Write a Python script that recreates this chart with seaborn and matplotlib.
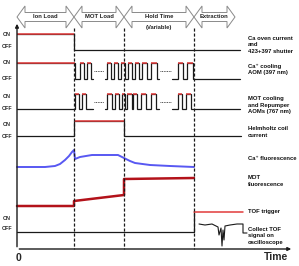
import matplotlib
matplotlib.use('Agg')
import matplotlib.pyplot as plt
from matplotlib.patches import Polygon
import seaborn as sns

# phases (time axis, in drawing units)
phase_edges = [17, 74, 124, 194, 235]
phase_names = ['Ion Load', 'MOT Load', 'Hold Time', 'Extraction']

# digital rows: ON / OFF levels
row_on = [34, 63, 94, 121, 212]
row_off = [50, 79, 109, 136, 232]
on_label_y = [34, 63, 97, 124, 218]
off_label_y = [47, 78, 109, 136, 229]

# high intervals for each row
oven_high = [(17, 74)]
cool_high = [(17, 75), (80, 84), (87, 91), (107, 111), (114, 118), (121, 125), (128, 132),
             (135, 139), (142, 147), (151, 157), (178, 183), (187, 193)]
mot_high = [(75, 79), (82, 86), (107, 112), (115, 119), (122, 125), (127, 132),
            (133, 137), (141, 146), (151, 156), (178, 182), (186, 191)]
helm_high = [(74, 124)]
pulse_gaps = [(93, 105), (159, 172)]
row_end = [240, 240, 240, 241]

# analogue traces
ca_t = [17, 30, 45, 55, 60, 65, 69, 72, 74, 75, 80, 92, 105, 118, 124, 130, 135, 150, 170, 194]
ca_f = [167, 167, 167, 166, 164, 160, 156, 152, 150, 159, 157, 155, 155, 155, 158, 161, 163, 165, 166, 167]
mot_t = [17, 74, 74, 124, 124, 194]
mot_f = [206, 206, 201, 195, 179, 178]
tof_t = [199, 205, 212, 216, 218, 219, 221, 222, 223, 224, 225, 230, 237, 243, 243, 247]
tof_s = [224, 225, 224, 226, 227, 235, 228, 246, 230, 240, 226, 225, 224, 224, 233, 233]

right_labels = ['Ca oven current\nand\n423+397 shutter', 'Ca⁺ cooling\nAOM (397 nm)',
                'MOT cooling\nand Repumper\nAOMs (767 nm)', 'Helmholtz coil\ncurrent',
                'Ca⁺ fluorescence', 'MOT\nfluorescence', 'TOF trigger',
                'Collect TOF\nsignal on\noscilloscope']
right_label_y = [45, 69, 105, 132, 159, 181, 211, 236]

RED = '#e23b3b'
BLACK = '#1a1a1a'
FONT = ['Liberation Sans', 'DejaVu Sans']

sns.set_theme(style='white')
plt.rcParams['font.family'] = FONT

fig = plt.figure(figsize=(2.99, 2.66), dpi=100)
ax = fig.add_axes([0, 0, 1, 1])
ax.set_xlim(0, 299)
ax.set_ylim(266, 0)
ax.axis('off')


def digital(high, start, end, on, off, gaps=()):
    # build list of segments (broken at dotted gaps)
    pts = []
    t = start
    cur = []
    events = sorted([(a, b, 'h') for a, b in high] + [(a, b, 'g') for a, b in gaps])
    for a, b, kind in events:
        if kind == 'h':
            if a > t:
                cur += [(t, off), (a, off)]
            cur += [(a, on), (b, on)]
            cur.append((b, off))
            t = b
        else:
            cur.append((a, off))
            pts.append(cur)
            ax.plot([a + 1, b - 1], [(on + off) / 2] * 2, color=BLACK, lw=0.6, ls=(0, (1, 1)))
            cur = [(b, off)]
            t = b
    cur.append((end, off))
    pts.append(cur)
    for seg in pts:
        xs, ys = zip(*seg)
        ax.plot(xs, ys, color=BLACK, lw=0.9, solid_joinstyle='miter')
    for a, b in high:
        ax.plot([a, b], [on, on], color=RED, lw=1.1, solid_capstyle='butt')


digital(oven_high, 17, row_end[0], row_on[0], row_off[0])
digital(cool_high, 17, row_end[1], row_on[1], row_off[1], pulse_gaps)
digital(mot_high, 17, row_end[2], row_on[2], row_off[2], pulse_gaps)
digital(helm_high, 17, row_end[3], row_on[3], row_off[3])

# TOF trigger row
ax.plot([17, 194, 194], [row_off[4], row_off[4], row_on[4]], color=BLACK, lw=0.9)
ax.plot([194, 243], [row_on[4], row_on[4]], color=RED, lw=1.1)

# analogue traces
sns.lineplot(x=ca_t, y=ca_f, sort=False, estimator=None, color='#5858f2', lw=1.4, ax=ax)
sns.lineplot(x=mot_t, y=mot_f, sort=False, estimator=None, color='#b3121a', lw=1.8, ax=ax)
sns.lineplot(x=tof_t, y=tof_s, sort=False, estimator=None, color=BLACK, lw=0.8, ax=ax)

# phase dividers
for x in phase_edges[1:4]:
    ax.plot([x, x], [28, 249], color=BLACK, lw=0.9, ls=(0, (2.5, 1.5)))

# axes arrows
ax.annotate('', xy=(17, 21), xytext=(17, 249.5),
            arrowprops=dict(arrowstyle='-|>', color=BLACK, lw=1.0, mutation_scale=5))
ax.annotate('', xy=(294, 249), xytext=(16.5, 249),
            arrowprops=dict(arrowstyle='-|>', color=BLACK, lw=1.0, mutation_scale=5))
ax.text(18, 258, '0', fontsize=7.5, fontweight='bold', ha='center', va='center')
ax.text(276, 257, 'Time', fontsize=7.5, fontweight='bold', ha='center', va='center')

# phase header block arrows
yc, body, head, hl = 17, 4.5, 11, 8
for (a, b), name in zip(zip(phase_edges[:-1], phase_edges[1:]), phase_names):
    poly = [(a, yc), (a + hl, yc - head), (a + hl, yc - body), (b - hl, yc - body),
            (b - hl, yc - head), (b, yc), (b - hl, yc + head), (b - hl, yc + body),
            (a + hl, yc + body), (a + hl, yc + head)]
    ax.add_patch(Polygon(poly, closed=True, fc='white', ec='#8a8a8a', lw=0.7))
    ax.text((a + b) / 2, yc, name, fontsize=4.2, fontweight='bold', ha='center', va='center',
            color='#222222')
ax.text((phase_edges[2] + phase_edges[3]) / 2, 28, '(Variable)', fontsize=4.2,
        fontweight='bold', ha='center', va='center', color='#222222')

# ON / OFF labels
for yo, yf in zip(on_label_y, off_label_y):
    ax.text(7, yo, 'ON', fontsize=3.8, fontweight='bold', ha='center', va='center')
    ax.text(7, yf, 'OFF', fontsize=3.8, fontweight='bold', ha='center', va='center')

# row labels on the right
for lab, y in zip(right_labels, right_label_y):
    ax.text(248, y, lab, fontsize=4.2, fontweight='bold', ha='left', va='center',
            linespacing=1.3, color='#111111')

fig.savefig('out.png', dpi=100)
